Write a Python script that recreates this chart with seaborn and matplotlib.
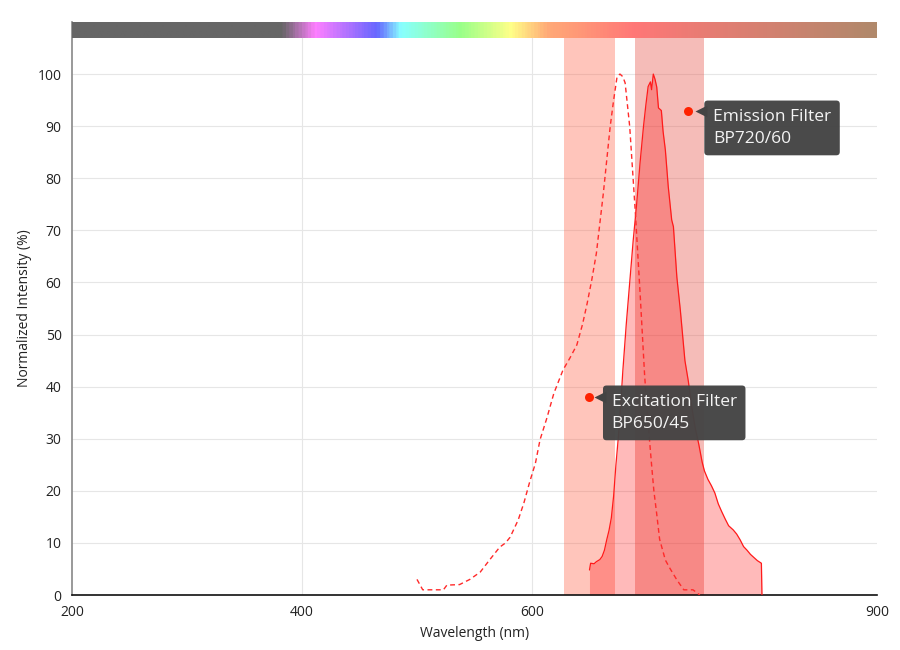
import numpy as np
import pandas as pd
import matplotlib
matplotlib.use("Agg")
import matplotlib.pyplot as plt
from matplotlib.colors import LinearSegmentedColormap
import seaborn as sns

# Excitation spectrum (dashed)
exc_nm = [500, 505, 514, 523, 526, 537, 546, 555, 563, 572, 577, 581, 588, 593,
          598, 603, 607, 613, 619, 627, 633, 639, 644, 648, 652, 656, 662, 668,
          671, 674, 676.5, 679, 681, 685, 690, 694, 698, 701, 704, 706, 708.5,
          711, 716, 720, 726, 732, 740, 746]
exc_val = [3.0, 1.0, 1.0, 1.0, 1.9, 2.0, 3.0, 4.4, 6.7, 9.2, 10.0, 11.1, 14.4, 17.7,
           21.7, 25.3, 29.8, 34.0, 38.7, 43.2, 45.5, 48.0, 52.0, 56.0, 60.5, 65.6, 77.0, 89.9,
           95.0, 99.5, 100.0, 99.5, 98.3, 89.9, 73.0, 58.0, 42.0, 33.0, 25.0, 20.0, 15.5,
           10.7, 6.7, 5.1, 2.9, 1.0, 1.0, 0.0]

# Emission spectrum (solid, filled)
em_nm = [650, 651, 654, 656, 659, 661, 663, 665, 667, 669, 671, 673, 675, 677, 679,
         682, 685, 688, 691, 694, 697, 699, 701, 703, 704, 705.5, 707, 708.5, 710,
         712.5, 714, 716, 718.5, 721.5, 723, 726, 729, 733, 736, 739, 742, 745, 748,
         750, 753, 756, 759, 762, 765, 768, 771, 775, 778, 781, 784, 787, 790, 793,
         796, 799.5, 800]
em_val = [4.8, 6.1, 6.0, 6.4, 6.8, 7.4, 8.6, 10.6, 12.4, 14.8, 19.0, 25.0, 30.0, 36.0, 43.0,
          52.0, 60.0, 68.0, 75.0, 83.0, 90.0, 94.0, 97.6, 98.5, 97.0, 100.0, 99.0, 97.5, 93.5,
          93.0, 89.0, 85.4, 78.4, 72.0, 70.7, 61.0, 54.7, 45.0, 41.0, 36.0, 32.0, 29.0, 25.5,
          23.8, 22.2, 21.0, 19.6, 17.5, 16.0, 14.6, 13.3, 12.5, 11.7, 10.6, 9.3, 8.6, 7.8, 7.2,
          6.6, 6.1, 0.0]

# Filters: name, center, bandwidth
filter_names = ["Excitation Filter", "Emission Filter"]
filter_codes = ["BP650/45", "BP720/60"]
filter_center = [650, 720]
filter_width = [45, 60]

# Spectrum bar colour stops (nm, colour)
spec_nm = [200, 382, 411, 465, 486, 538, 582, 614, 690, 900]
spec_col = ["#666666", "#666666", "#ff80ff", "#6666ff", "#88ffff", "#99ff88",
            "#ffff88", "#ffaa77", "#ff7777", "#b0896b"]

sns.set_style("white")
plt.rcParams['font.family'] = ['Open Sans', 'DejaVu Sans']

fig = plt.figure(figsize=(9, 6.5), dpi=100)
ax = fig.add_axes([0.08, 0.0846, 0.8944, 0.8816])

# grid
for yv in range(10, 101, 10):
    ax.axhline(yv, color="#e6e6e6", lw=0.8, zorder=0)
for xv in [400, 600]:
    ax.axvline(xv, color="#e6e6e6", lw=0.8, zorder=0)

# filter bands
band_colors = [("#ff6347", 0.37), ("#e65046", 0.38)]
for c, w, (col, a) in zip(filter_center, filter_width, band_colors):
    ax.axvspan(c - w / 2, c + w / 2, ymin=0, ymax=107 / 110, color=col, alpha=a,
               lw=0, zorder=1)

# emission fill + lines
ax.fill_between(em_nm, 0, em_val, color="#ff0000", alpha=0.27, lw=0, zorder=2)
em_df = pd.DataFrame({"nm": em_nm, "val": em_val})
exc_df = pd.DataFrame({"nm": exc_nm, "val": exc_val})
sns.lineplot(data=em_df, x="nm", y="val", ax=ax, color="#ff1a1a", lw=0.9, zorder=3)
sns.lineplot(data=exc_df, x="nm", y="val", ax=ax, color="#ff2a2a", lw=1.0,
             dashes=False, zorder=3)
ax.lines[-1].set_dashes([3.5, 2.5])

# spectrum bar
pos = [(n - 200) / 700 for n in spec_nm]
cmap = LinearSegmentedColormap.from_list("spec", list(zip(pos, spec_col)))
grad = np.linspace(0, 1, 700).reshape(1, -1)
ax.imshow(grad, cmap=cmap, aspect="auto", extent=[200, 900, 107, 110], zorder=4)

# annotations: (dot x, dot y, box left x, box top y)
label_pos = [(649.6, 38.0, 661.5, 40.3), (735.6, 92.9, 749.6, 95.0)]
for name, code, (dx, dy, bx, by) in zip(filter_names, filter_codes, label_pos):
    ax.scatter([dx], [dy], s=42, color="#ff2200", zorder=6, linewidths=0)
    ax.scatter([bx - 2.6], [dy], s=75, marker="<", color="#444444", zorder=6,
               linewidths=0)
    ax.text(bx + 7.8, by - 1.75, f"{name}\n{code}", color="#f4f4f4", fontsize=12.5,
            va="top", ha="left", zorder=7, linespacing=1.45,
            bbox=dict(boxstyle="round,pad=0.5,rounding_size=0.2",
                      fc="#444444", ec="none", alpha=0.97))

ax.set_xlim(200, 900)
ax.set_ylim(0, 110)
ax.set_xticks([200, 400, 600, 900])
ax.set_yticks(range(0, 101, 10))
ax.tick_params(axis="both", labelsize=10, length=4, width=0.8, color="#555555",
               colors="#222222")
ax.set_xlabel("Wavelength (nm)", fontsize=10, color="#222222")
ax.set_ylabel("Normalized Intensity (%)", fontsize=10, color="#222222")

for s in ["top", "right"]:
    ax.spines[s].set_visible(False)
ax.spines["left"].set_color("#888888")
ax.spines["left"].set_linewidth(1.2)
ax.spines["bottom"].set_color("#111111")
ax.spines["bottom"].set_linewidth(1.2)

fig.savefig("out.png", dpi=100)
